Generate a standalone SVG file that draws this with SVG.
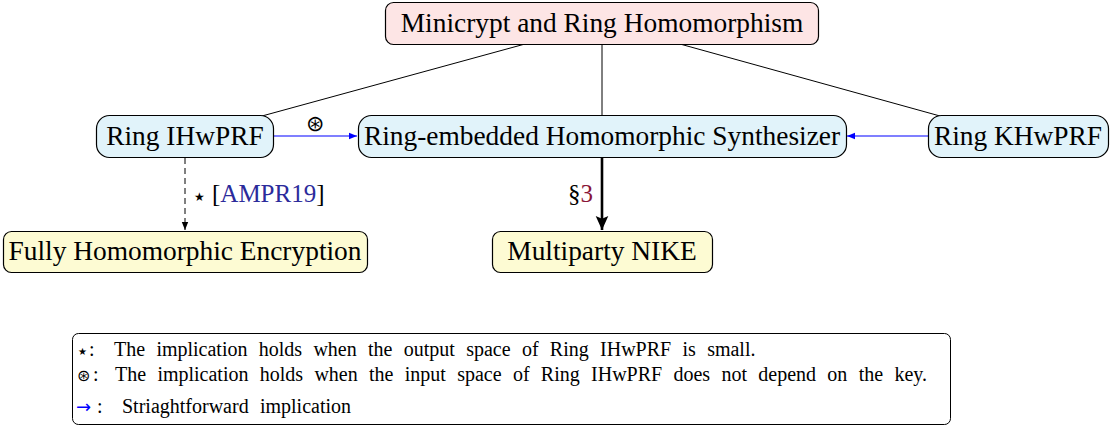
<svg xmlns="http://www.w3.org/2000/svg" width="1114" height="427" viewBox="0 0 1114 427">
<style>
.node{stroke:#000;stroke-width:1.2}
.pink{fill:#fde5e5}
.blue{fill:#e1f3fa}
.yellow{fill:#fdfbd3}
.lbl{font-family:"Liberation Serif","Times New Roman",serif;font-size:27.4px;fill:#000;text-anchor:middle}
.serif{font-family:"Liberation Serif","Times New Roman",serif}
.leg{font-size:20px;word-spacing:6.3px}
.elbl{font-size:25px}
.sym{font-family:"DejaVu Sans",sans-serif}
.line{stroke:#000;stroke-width:1;fill:none}
.barrow{stroke:#0000ff;stroke-width:1.2;fill:none}
</style>
<defs>
<marker id="ab" viewBox="0 0 10 10" refX="10" refY="5" markerWidth="8" markerHeight="8" markerUnits="userSpaceOnUse" orient="auto"><path d="M0,1 L10,5 L0,9 Z" fill="#0000ff"/></marker>
<marker id="ak" viewBox="0 0 10 10" refX="10" refY="5" markerWidth="8" markerHeight="8" markerUnits="userSpaceOnUse" orient="auto"><path d="M0,1 L10,5 L0,9 Z" fill="#000"/></marker>
<marker id="athick" viewBox="0 0 10 10" refX="10" refY="5" markerWidth="14" markerHeight="14" markerUnits="userSpaceOnUse" orient="auto"><path d="M0,0.5 L10,5 L0,9.5 L2,5 Z" fill="#000"/></marker>
</defs>
<g id="connectors">
<line class="line" x1="525" y1="44" x2="262" y2="116"/>
<line class="line" x1="602" y1="44" x2="602" y2="115"/>
<line class="line" x1="680" y1="44" x2="940" y2="116"/>
<line class="barrow" x1="273" y1="136" x2="357" y2="136" marker-end="url(#ab)"/>
<text x="315" y="131" class="sym" font-size="22" text-anchor="middle" font-weight="200">⊛</text>
<line class="barrow" x1="928" y1="136" x2="847" y2="136" marker-end="url(#ab)"/>
<line x1="185" y1="158" x2="185" y2="230" stroke="#000" stroke-width="1" stroke-dasharray="6,4" marker-end="url(#ak)"/>
<text x="194" y="201" class="sym" font-size="12">★</text>
<text x="212" y="202" class="serif elbl">[<tspan fill="#2b2b9b">AMPR19</tspan>]</text>
<line x1="602" y1="157" x2="602" y2="230" stroke="#000" stroke-width="2.6" marker-end="url(#athick)"/>
<text x="568" y="202" class="serif elbl">§<tspan fill="#8a1538">3</tspan></text>
</g>
<g id="n-top">
<rect class="node pink" x="385.5" y="2.5" width="433" height="42" rx="8"/>
<text class="lbl" x="602" y="32">Minicrypt and Ring Homomorphism</text>
</g>
<g id="n-ihwprf">
<rect class="node blue" x="96.5" y="115.5" width="177" height="42" rx="13"/>
<text class="lbl" x="185" y="145">Ring IHwPRF</text>
</g>
<g id="n-rehs">
<rect class="node blue" x="358.5" y="115.5" width="488" height="42" rx="13"/>
<text class="lbl" x="602" y="145">Ring-embedded Homomorphic Synthesizer</text>
</g>
<g id="n-khwprf">
<rect class="node blue" x="928.5" y="115.5" width="180" height="42" rx="13"/>
<text class="lbl" x="1018" y="145">Ring KHwPRF</text>
</g>
<g id="n-fhe">
<rect class="node yellow" x="3.5" y="231.5" width="364" height="41" rx="8"/>
<text class="lbl" x="185" y="260">Fully Homomorphic Encryption</text>
</g>
<g id="n-nike">
<rect class="node yellow" x="492.5" y="231.5" width="220" height="41" rx="8"/>
<text class="lbl" x="602" y="260">Multiparty NIKE</text>
</g>
<g id="legend">
<rect x="72.5" y="333.5" width="878" height="91" rx="6" fill="#fff" stroke="#000" stroke-width="1"/>
<text class="sym" x="78" y="355" font-size="10">★</text>
<text class="serif leg" x="89" y="356">:</text>
<text class="serif leg" x="114" y="356">The implication holds when the output space of Ring IHwPRF is small.</text>
<text class="sym" x="77" y="381" font-size="16" font-weight="200">⊛</text>
<text class="serif leg" x="93" y="381">:</text>
<text class="serif leg" x="115" y="381">The implication holds when the input space of Ring IHwPRF does not depend on the key.</text>
<text class="sym" x="76" y="413" font-size="18" fill="#0000ff">→</text>
<text class="serif leg" x="97" y="413">:</text>
<text class="serif leg" x="122" y="413" word-spacing="2">Striaghtforward implication</text>
</g>
</svg>
